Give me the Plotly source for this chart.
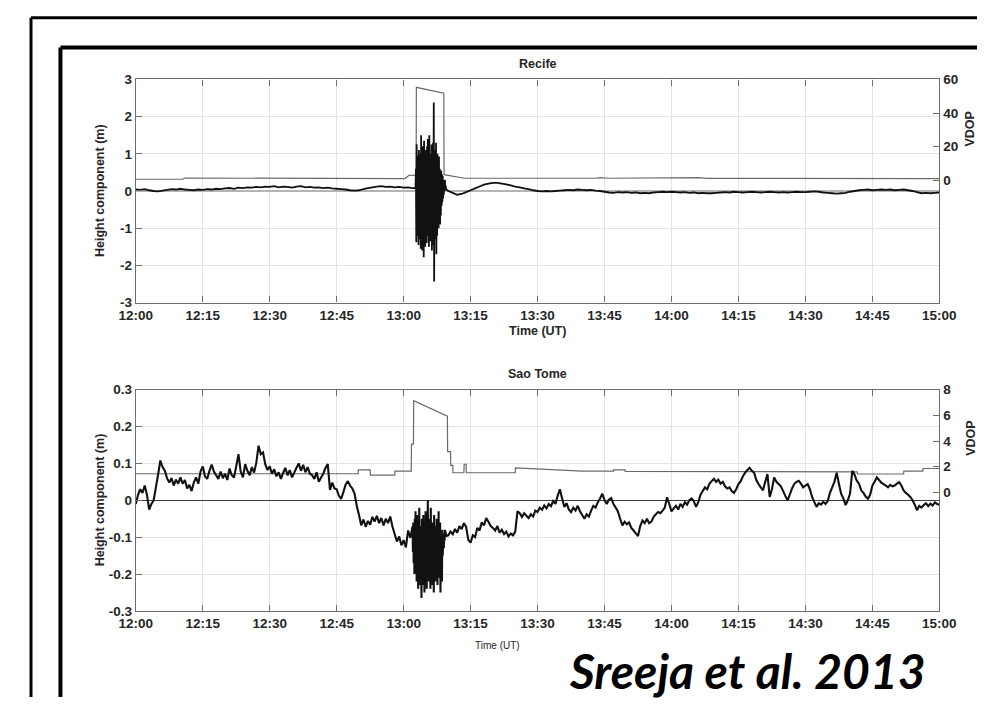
import numpy as np
import plotly.graph_objects as go

# ---------------------------------------------------------------------------
# Axis ticks (time in minutes after 12:00 UT)
# ---------------------------------------------------------------------------
tick_minutes = [0, 15, 30, 45, 60, 75, 90, 105, 120, 135, 150, 165, 180]
tick_labels = ["12:00", "12:15", "12:30", "12:45", "13:00", "13:15", "13:30",
               "13:45", "14:00", "14:15", "14:30", "14:45", "15:00"]

recife_h_ticks = [-3, -2, -1, 0, 1, 2, 3]
recife_h_labels = ["-3", "-2", "-1", "0", "1", "2", "3"]
recife_vdop_ticks = [0, 20, 40, 60]

saotome_h_ticks = [-0.3, -0.2, -0.1, 0, 0.1, 0.2, 0.3]
saotome_h_labels = ["-0.3", "-0.2", "-0.1", "0", "0.1", "0.2", "0.3"]
saotome_vdop_ticks = [0, 2, 4, 6, 8]

# ---------------------------------------------------------------------------
# Recife height component (m)
# quiet part before the event: 1-min samples from 12:00
recife_pre = [
    0.04, 0.03, 0.05, 0.02, 0.0, -0.01, 0.01, 0.03, 0.05, 0.04,
    0.06, 0.04, 0.03, 0.02, 0.04, 0.03, 0.05, 0.04, 0.06, 0.05,
    0.07, 0.08, 0.06, 0.09, 0.08, 0.1, 0.09, 0.11, 0.1, 0.12,
    0.11, 0.13, 0.1, 0.12, 0.11, 0.09, 0.12, 0.13, 0.1, 0.11,
    0.09, 0.1, 0.08, 0.09, 0.07, 0.06, 0.05, 0.04, 0.02, 0.01,
    0.02, 0.05, 0.08, 0.1, 0.12, 0.13, 0.11, 0.12, 0.1, 0.11,
    0.09, 0.1, 0.08,
]
# disturbed interval: 5-s samples from 13:02:30
recife_burst = [
    0.08, 0.1, 0.12, 0.6, -1.38, 1.26, -0.9, 0.95, -1.2, 0.7, -1.45, 1.1,
    -0.8, 1.0, -1.3, 0.6, -1.55, 1.5, -1.1, 0.8, -1.6, 1.2, -0.9, 0.9,
    -1.78, 1.35, -1.25, 0.7, -1.5, 1.1, -1.0, 0.85, -1.4, 1.2, -0.7, 1.4,
    -1.2, 0.9, -1.5, 1.5, -0.95, 1.0, -1.35, 0.75, -1.1, 1.25, -1.6, 0.95,
    -1.0, 1.3, -1.45, 2.38, -2.43, 1.1, -1.3, 0.8, -1.0, 1.3, -1.7, 0.9,
    -1.2, 1.0, -0.8, 0.7, -1.0, 0.93, -0.6, 0.6, -0.9, 0.5, -0.66, 0.55,
    -0.4, 0.45, -0.3, 0.4, -0.2, 0.3, -0.1, 0.25, 0.0, 0.3, 0.1, 0.15,
    0.05,
]
# recovery: 1-min samples from 13:10
recife_post = [
    0.0, -0.05, -0.1, -0.08, -0.03, 0.02, 0.07, 0.12, 0.17, 0.2,
    0.22, 0.22, 0.2, 0.18, 0.15, 0.12, 0.1, 0.07, 0.05, 0.02,
    0.0, -0.01, 0.0, -0.01, 0.0, 0.01, 0.02, 0.03, 0.02, 0.04,
    0.03, 0.02, 0.03, 0.01, 0.0, -0.02, -0.04, -0.05, -0.03, -0.04,
    -0.03, -0.05, -0.04, -0.06, -0.05, -0.06, -0.04, -0.03, -0.02, -0.03,
    -0.02, -0.03, -0.04, -0.03, -0.05, -0.04, -0.06, -0.05, -0.06, -0.06,
    -0.05, -0.04, -0.03, -0.04, -0.02, -0.03, -0.04, -0.03, -0.02, -0.03,
    -0.04, -0.03, -0.02, -0.03, -0.04, -0.03, -0.04, -0.03, -0.02, -0.03,
    -0.03, -0.02, -0.01, -0.02, -0.04, -0.05, -0.06, -0.07, -0.06, -0.05,
    -0.02, 0.0, 0.02, 0.03, 0.04, 0.02, 0.03, 0.04, 0.03, 0.04,
    0.02, 0.03, 0.04, 0.02, 0.0, -0.03, -0.06, -0.05, -0.06, -0.05,
    -0.04,
]

# Recife VDOP (breakpoints, minutes after 12:00)
recife_vdop_t = [0, 10.5, 11, 30, 30.5, 60.3, 61.2, 62.8, 62.85, 69.0,
                 69.05, 73.6, 103, 104, 106, 125, 126, 128, 180]
recife_vdop = [0.6, 0.6, 1.3, 1.3, 1.0, 1.0, 2.9, 3.0, 55.3, 51.8,
               3.3, 1.2, 1.2, 1.6, 1.2, 1.2, 1.6, 1.1, 1.0]

# ---------------------------------------------------------------------------
# Sao Tome height component (m)
# 30-s samples from 12:00
saotome_pre = [
    -0.01, 0.015, 0.03, 0.02, 0.04, 0.015, -0.025, -0.01, 0.0, 0.035,
    0.07, 0.108, 0.09, 0.08, 0.06, 0.048, 0.06, 0.04, 0.056, 0.045,
    0.062, 0.045, 0.055, 0.032, 0.042, 0.025, 0.048, 0.062, 0.045, 0.078,
    0.092, 0.065, 0.058, 0.08, 0.097, 0.078, 0.068, 0.058, 0.078, 0.06,
    0.072, 0.055, 0.086, 0.068, 0.062, 0.092, 0.125, 0.078, 0.062, 0.098,
    0.08, 0.068, 0.09, 0.075, 0.102, 0.148, 0.125, 0.13, 0.098, 0.082,
    0.092, 0.072, 0.084, 0.065, 0.076, 0.058, 0.074, 0.088, 0.068, 0.082,
    0.062, 0.075, 0.088, 0.1, 0.08, 0.096, 0.076, 0.09, 0.072, 0.068,
    0.058, 0.076, 0.05, 0.062, 0.072, 0.088, 0.098, 0.028, 0.048, 0.032,
    0.03, 0.012, 0.004, 0.022, 0.042, 0.052, 0.04, 0.032, 0.018, -0.015,
    -0.04, -0.068, -0.052, -0.072, -0.056, -0.066, -0.045, -0.058, -0.042, -0.062,
    -0.048, -0.068, -0.05, -0.062, -0.044, -0.072, -0.092, -0.112, -0.098, -0.122,
    -0.108, -0.128, -0.082, -0.102,
]
# 5-s samples from 13:02
saotome_burst = [
    -0.07, -0.14, -0.06, -0.17, -0.09, -0.2, -0.05, -0.15, -0.03, -0.19, -0.11, -0.22,
    -0.04, -0.18, -0.1, -0.24, -0.06, -0.16, -0.02, -0.21, -0.13, -0.23, -0.07, -0.19,
    -0.265, -0.05, -0.17, -0.11, -0.23, -0.04, -0.2, -0.14, -0.25, -0.08, -0.18, -0.03,
    -0.21, -0.12, -0.24, -0.06, -0.15, 0.0, -0.19, -0.1, -0.22, -0.05, -0.17, -0.13,
    -0.24, -0.02, -0.2, -0.09, -0.16, -0.23, -0.06, -0.18, -0.12, -0.25, -0.04, -0.19,
    -0.1, -0.22, -0.07, -0.16, -0.2, -0.05, -0.14, -0.23, -0.09, -0.18, -0.03, -0.21,
    -0.12, -0.19, -0.06, -0.25, -0.1, -0.17, -0.14, -0.22, -0.08, -0.15, -0.12, -0.1,
    -0.13, -0.09, -0.11, -0.08, -0.1, -0.085, -0.097,
]
# 30-s samples from 13:10
saotome_post = [
    -0.095, -0.085, -0.092, -0.078, -0.088, -0.07, -0.078, -0.062, -0.072, -0.108,
    -0.115, -0.095, -0.1, -0.075, -0.082, -0.06, -0.068, -0.048, -0.058, -0.07,
    -0.075, -0.082, -0.07, -0.088, -0.08, -0.092, -0.085, -0.098, -0.09, -0.095,
    -0.085, -0.03, -0.035, -0.045, -0.035, -0.042, -0.048, -0.038, -0.044, -0.028,
    -0.032, -0.02, -0.026, -0.014, -0.022, -0.01, -0.016, -0.002, -0.01, 0.012,
    0.03, 0.005, -0.018, -0.008, -0.025, -0.032, -0.02, -0.028, -0.015, -0.03,
    -0.04, -0.05, -0.038, -0.044, -0.028, -0.015, -0.02, -0.005, 0.005, 0.018,
    0.0, -0.01, 0.002, 0.006, -0.01, -0.02, -0.03, -0.05, -0.068, -0.058,
    -0.065, -0.06, -0.075, -0.082, -0.09, -0.097, -0.07, -0.055, -0.062, -0.05,
    -0.062, -0.058, -0.045, -0.038, -0.032, -0.035, -0.028, -0.02, 0.008, -0.01,
    -0.03, -0.022, -0.015, -0.025, -0.01, -0.018, -0.005, -0.012, 0.0, 0.005,
    -0.002, -0.018, -0.005, 0.015, 0.025, 0.035, 0.03, 0.045, 0.052, 0.058,
    0.05, 0.056, 0.045, 0.05, 0.038, 0.032, 0.035, 0.025, 0.02, 0.03,
    0.044, 0.052, 0.065, 0.075, 0.082, 0.088, 0.08, 0.075, 0.055, 0.044,
    0.035, 0.027, 0.05, 0.071, 0.009, 0.03, 0.062, 0.05, 0.044, 0.038,
    0.025, 0.012, 0.0, 0.015, 0.032, 0.044, 0.05, 0.053, 0.045, 0.035,
    0.04, 0.044, 0.03, 0.009, -0.005, -0.018, -0.008, -0.012, -0.004, -0.01,
    -0.002, 0.02, 0.035, 0.05, 0.075, 0.045, 0.018, 0.005, -0.013, 0.0,
    0.018, 0.08, 0.07, 0.053, 0.045, 0.027, 0.02, 0.01, 0.004, 0.015,
    0.04, 0.05, 0.062, 0.055, 0.048, 0.044, 0.04, 0.035, 0.042, 0.038,
    0.04, 0.045, 0.049, 0.04, 0.027, 0.02, 0.015, 0.009, 0.0, -0.012,
    -0.027, -0.015, -0.02, -0.013, -0.008, -0.016, -0.009, -0.014, -0.006, -0.01,
    -0.012,
]

# Sao Tome VDOP (breakpoints, minutes after 12:00)
saotome_vdop_t = [0, 49.8, 49.85, 52.5, 52.55, 58, 58.05, 61.7, 61.75, 62.2,
                  62.25, 69.8, 69.85, 70.5, 70.55, 71.0, 71.05, 73.5, 73.55, 74.0,
                  74.05, 85, 85.05, 100, 107, 107.05, 109.6, 109.65, 161.6, 161.65,
                  172, 172.05, 176.3, 176.35, 180]
saotome_vdop = [1.45, 1.45, 1.75, 1.75, 1.35, 1.35, 1.65, 1.65, 3.76, 3.76,
                7.15, 5.93, 3.18, 3.18, 2.11, 2.11, 1.53, 1.53, 2.19, 2.19,
                1.53, 1.53, 1.9, 1.65, 1.65, 1.75, 1.75, 1.63, 1.6, 1.43,
                1.43, 1.65, 1.65, 1.86, 1.86]


def sample_times(start, step, values):
    return list(start + step * np.arange(len(values)))


recife_t = (sample_times(0, 1.0, recife_pre)
            + sample_times(62.5, 1 / 12, recife_burst)
            + sample_times(70, 1.0, recife_post))
recife_h = recife_pre + recife_burst + recife_post

saotome_t = (sample_times(0, 0.5, saotome_pre)
             + sample_times(62, 1 / 12, saotome_burst)
             + sample_times(70, 0.5, saotome_post))
saotome_h = saotome_pre + saotome_burst + saotome_post

# ---------------------------------------------------------------------------
W, H = 994, 705


def px(x):
    return x / W


def py(y):
    return 1 - y / H


X_DOM = [px(123), px(955)]
TOP_DOM = [py(302), py(74)]
BOT_DOM = [py(617), py(391)]

FONT = "Liberation Sans, Arial, sans-serif"
TXT = "#262626"
AX = "#6e6e6e"
GRID = "#e4e4e4"
tickfont = dict(family=FONT, size=13.5, color=TXT, weight="bold")

base_axis = dict(showline=True, linecolor=AX, linewidth=1.2, ticks="inside",
                 ticklen=6, tickwidth=1, tickcolor=AX, tickfont=tickfont)

fig = go.Figure()

fig.add_trace(go.Scatter(x=recife_vdop_t, y=recife_vdop, xaxis="x", yaxis="y",
                         mode="lines", line=dict(color="#6a6a6a", width=1.2)))
fig.add_trace(go.Scatter(x=recife_t, y=recife_h, xaxis="x", yaxis="y2",
                         mode="lines", line=dict(color="#111111", width=1.8, simplify=False)))
fig.add_trace(go.Scatter(x=saotome_vdop_t, y=saotome_vdop, xaxis="x2", yaxis="y3",
                         mode="lines", line=dict(color="#6a6a6a", width=1.2)))
fig.add_trace(go.Scatter(x=saotome_t, y=saotome_h, xaxis="x2", yaxis="y4",
                         mode="lines", line=dict(color="#111111", width=2.1, simplify=False)))

xcommon = dict(base_axis, range=[0, 180], tickvals=tick_minutes, ticktext=tick_labels,
               mirror="ticks", showgrid=True, gridcolor=GRID, zeroline=False)

fig.update_layout(
    width=W, height=H,
    margin=dict(l=0, r=0, t=0, b=0),
    paper_bgcolor="white", plot_bgcolor="white",
    showlegend=False,
    xaxis=dict(xcommon, domain=X_DOM, anchor="y"),
    yaxis=dict(base_axis, domain=TOP_DOM, anchor="x", side="right",
               range=[-72.8, 60], tickvals=recife_vdop_ticks,
               showgrid=False, zeroline=False),
    yaxis2=dict(base_axis, overlaying="y", anchor="x", side="left",
                range=[-3, 3], tickvals=recife_h_ticks, ticktext=recife_h_labels,
                showgrid=True, gridcolor=GRID, zeroline=True,
                zerolinecolor="#b4b4b4", zerolinewidth=2),
    xaxis2=dict(xcommon, domain=X_DOM, anchor="y3"),
    yaxis3=dict(base_axis, domain=BOT_DOM, anchor="x2", side="right",
                range=[-9.23, 8], tickvals=saotome_vdop_ticks,
                showgrid=False, zeroline=False),
    yaxis4=dict(base_axis, overlaying="y3", anchor="x2", side="left",
                range=[-0.3, 0.3], tickvals=saotome_h_ticks, ticktext=saotome_h_labels,
                showgrid=True, gridcolor=GRID, zeroline=True,
                zerolinecolor="#3c3c3c", zerolinewidth=1.2),
)

bold12 = dict(family=FONT, size=12.5, color=TXT, weight="bold")
annotations = [
    dict(text="Recife", x=px(539), y=py(58), font=bold12),
    dict(text="Sao Tome", x=px(539), y=py(375), font=bold12),
    dict(text="Time (UT)", x=px(539), y=py(331), font=bold12),
    dict(text="Time (UT)", x=px(497), y=py(652),
         font=dict(family=FONT, size=10, color=TXT)),
    dict(text="Height component (m)", x=px(86), y=py(188), textangle=-90, font=bold12),
    dict(text="Height component (m)", x=px(86), y=py(504), textangle=-90, font=bold12),
    dict(text="VDOP", x=px(987), y=py(125), textangle=-90, font=bold12),
    dict(text="VDOP", x=px(987), y=py(441), textangle=-90, font=bold12),
    dict(text="Sreeja et al. 2013", x=px(756), y=py(678),
         font=dict(family="Lato", size=48, color="black", weight="bold", style="italic")),
]
for a in annotations:
    a.update(xref="paper", yref="paper", showarrow=False, xanchor="center", yanchor="middle")
fig.update_layout(annotations=annotations)

# double frame around the figure
frame = []
for (fx, fy, lw) in [(14.5, 11, 3), (45, 41.5, 4)]:
    frame.append(dict(type="line", xref="paper", yref="paper",
                      x0=px(fx), y0=py(fy), x1=1, y1=py(fy),
                      line=dict(color="black", width=lw)))
    frame.append(dict(type="line", xref="paper", yref="paper",
                      x0=px(fx), y0=py(fy), x1=px(fx), y1=0,
                      line=dict(color="black", width=lw)))
fig.update_layout(shapes=frame)

fig.write_html("out.html")
